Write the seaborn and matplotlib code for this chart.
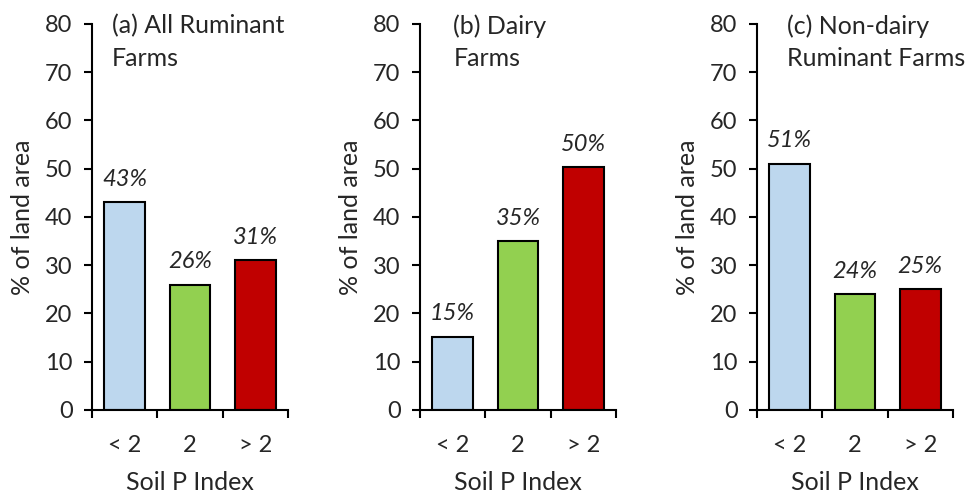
import pandas as pd
import matplotlib
matplotlib.use("Agg")
import matplotlib.pyplot as plt
import seaborn as sns

# Data
categories = ["< 2", "2", "> 2"]
panel_titles = ["(a) All Ruminant\nFarms", "(b) Dairy\nFarms", "(c) Non-dairy\nRuminant Farms"]
all_ruminant = [43.0, 26.0, 31.0]
dairy = [15.2, 35.0, 50.3]
non_dairy = [51.0, 24.0, 25.0]
all_ruminant_labels = ["43%", "26%", "31%"]
dairy_labels = ["15%", "35%", "50%"]
non_dairy_labels = ["51%", "24%", "25%"]
bar_colors = ["#BDD7EE", "#92D050", "#C00000"]

series = [all_ruminant, dairy, non_dairy]
labels = [all_ruminant_labels, dairy_labels, non_dairy_labels]

sns.set_style("white")
plt.rcParams["font.family"] = ["Lato", "DejaVu Sans"]
text_col = "#262626"

fig = plt.figure(figsize=(9.69, 4.93), dpi=100)
lefts = [0.0949, 0.4334, 0.7812]
title_x = [0.10, 0.17, 0.155]

for i in range(3):
    ax = fig.add_axes([lefts[i], 0.1684, 0.2023, 0.7830])
    df = pd.DataFrame({"cat": categories, "val": series[i]})
    sns.barplot(data=df, x="cat", y="val", hue="cat", palette=bar_colors,
                order=categories, hue_order=categories, legend=False,
                width=0.62, edgecolor="black", linewidth=1.5, saturation=1, ax=ax)
    for j, p in enumerate(ax.patches):
        ax.annotate(labels[i][j], (p.get_x() + p.get_width() / 2, p.get_height()),
                    xytext=(0, 9), textcoords="offset points", ha="center", va="bottom",
                    fontsize=17, style="italic", color=text_col)
    ax.set_xlim(-0.5, 2.5)
    ax.set_ylim(0, 80)
    ax.set_yticks(range(0, 81, 10))
    # boundary ticks (major, unlabeled) and category labels (minor)
    ax.set_xticks([-0.5, 0.5, 1.5, 2.5])
    ax.set_xticklabels([])
    ax.set_xticks([0, 1, 2], minor=True)
    ax.set_xticklabels(categories, minor=True)
    ax.tick_params(axis="x", which="major", direction="out", length=6, width=1.5,
                   color="black", bottom=True)
    ax.tick_params(axis="x", which="minor", length=0, pad=18, labelsize=17,
                   labelcolor=text_col)
    ax.tick_params(axis="y", direction="out", length=6, width=1.5, color="black",
                   left=True, pad=8, labelsize=17, labelcolor=text_col)
    sns.despine(ax=ax)
    for s in ["left", "bottom"]:
        ax.spines[s].set_color("black")
        ax.spines[s].set_linewidth(1.5)
    ax.set_xlabel("Soil P Index", fontsize=18, color=text_col, labelpad=11)
    ax.set_ylabel("% of land area", fontsize=18, color=text_col, labelpad=8)
    ax.text(title_x[i], 1.025, panel_titles[i], transform=ax.transAxes, ha="left",
            va="top", fontsize=18, color=text_col, linespacing=1.5)

fig.savefig("out.png", dpi=100)
